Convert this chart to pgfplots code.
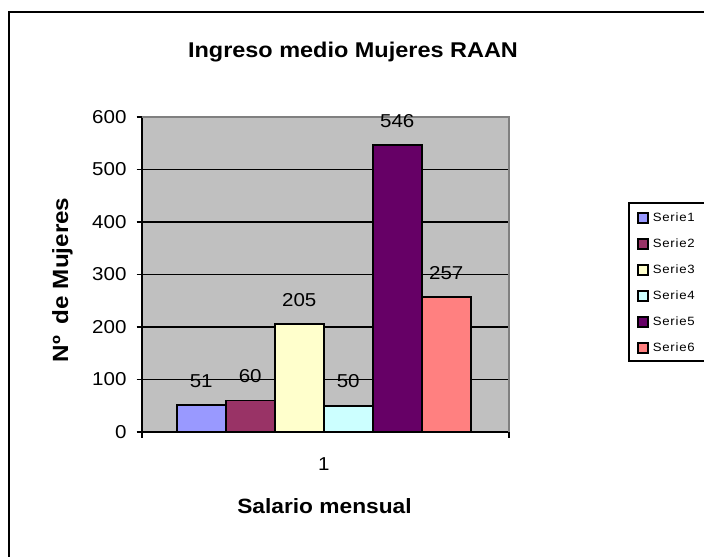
\documentclass[border=0pt]{standalone}
\usepackage{fontspec}
\setmainfont[FakeStretch=1.1]{Liberation Sans}
\newfontfamily\legfont[FakeStretch=1.1,LetterSpace=6]{Liberation Sans}
\usepackage{pgfplots}
\pgfplotsset{compat=1.18}
\definecolor{plotgray}{HTML}{C0C0C0}
\definecolor{sA}{HTML}{9999FF}
\definecolor{sB}{HTML}{993366}
\definecolor{sC}{HTML}{FFFFCC}
\definecolor{sD}{HTML}{CCFFFF}
\definecolor{sE}{HTML}{660066}
\definecolor{sF}{HTML}{FF8080}
\newcommand{\numfont}{\fontsize{14}{16}\selectfont}
\pgfplotsset{sq/.style={legend image code/.code={\draw[##1, draw=black, line width=1.2pt] (0pt,-3.75pt) rectangle (7.5pt,3.75pt);}}}
\begin{document}
\begin{tikzpicture}[x=0.75pt,y=0.75pt]
\path[use as bounding box] (0,0) rectangle (704,557);
\begin{scope}
\clip (0,0) rectangle (704,557);
\draw[line width=1.3pt] (9,545) rectangle (730,-30);
\draw[line width=1.4pt] (629,354) rectangle (730,196);
\end{scope}
\begin{axis}[
  at={(106.275pt,93.75pt)}, anchor=south west,
  scale only axis, width=275.5pt, height=236.25pt,
  xmin=0.5045, xmax=1.5045, ymin=0, ymax=600,
  ytick={0,100,200,300,400,500,600}, xtick={1},
  ybar=0pt, bar width=36.75pt,
  clip=false,
  axis background/.style={fill=plotgray},
  ymajorgrids, grid style={black, line width=1.4pt},
  axis lines*=left, axis line style={black, line width=1.4pt},
  tick align=outside, major tick length=3.75pt,
  major y tick style={black, line width=1.4pt},
  major x tick style={draw=none},
  yticklabel={\numfont\pgfmathprintnumber[assume math mode=true]{\tick}},
  xticklabel={\numfont\pgfmathprintnumber[assume math mode=true]{\tick}},
  yticklabel style={inner sep=0pt, xshift=-7.5pt},
  xticklabel style={inner sep=0pt, yshift=-15pt},
  nodes near coords={\numfont\pgfmathprintnumber[assume math mode=true]{\pgfplotspointmeta}},
  every node near coord/.append style={anchor=base, yshift=13.4pt, black},
  legend style={draw=none, fill=none, at={(1.3485,0.6984)}, anchor=north west, inner sep=0pt,
    row sep=10.8pt, column sep=3pt,
    nodes={inner sep=0pt, text height=6.5pt, text depth=1pt, font=\legfont\fontsize{9}{10}\selectfont}},
  legend cell align=left,
]
\addplot[fill=sA, draw=black, line width=1.4pt, sq] coordinates {(1,51)};
\addplot[fill=sB, draw=black, line width=1.4pt, sq] coordinates {(1,60)};
\addplot[fill=sC, draw=black, line width=1.4pt, sq] coordinates {(1,205)};
\addplot[fill=sD, draw=black, line width=1.4pt, sq] coordinates {(1,50)};
\addplot[fill=sE, draw=black, line width=1.4pt, sq] coordinates {(1,546)};
\addplot[fill=sF, draw=black, line width=1.4pt, sq] coordinates {(1,257)};
\legend{Serie1,Serie2,Serie3,Serie4,Serie5,Serie6}
\draw[gray, line width=1.4pt] (rel axis cs:0,1) -- (rel axis cs:1,1) -- (rel axis cs:1,0);
\draw[black, line width=1.4pt] (rel axis cs:0,0) -- ++(0pt,-4.5pt);
\draw[black, line width=1.4pt] (rel axis cs:1,0) -- ++(0pt,-4.5pt);
\end{axis}
\node[font=\bfseries\fontsize{16}{19}\selectfont, anchor=base] at (353,499) {Ingreso medio Mujeres RAAN};
\node[font=\bfseries\fontsize{15.5}{18}\selectfont, anchor=base] at (324.5,43) {Salario mensual};
\node[font=\bfseries\fontsize{16.5}{19}\selectfont, rotate=90, anchor=base] at (68,277) {Nº\hspace{0.55em}de Mujeres};
\end{tikzpicture}
\end{document}
